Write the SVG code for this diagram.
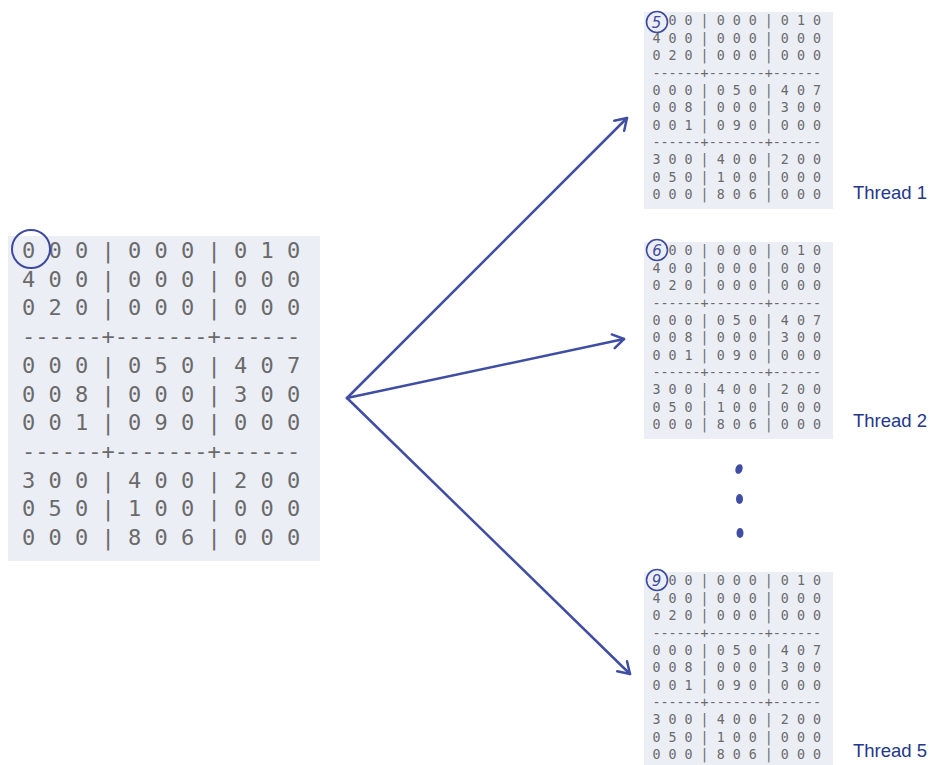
<svg xmlns="http://www.w3.org/2000/svg" xmlns:xlink="http://www.w3.org/1999/xlink" width="930" height="765" viewBox="0 0 930 765">
<style>
.bg{fill:#eceef6}
.g{font-family:"DejaVu Sans Mono",monospace;font-size:22px;fill:#6a6a6a}
.ring{fill:none;stroke:#3d4aa0;stroke-width:2}
.badge{fill:#eceef6;stroke:#3d4aa0;stroke-width:1.6}
.num{font-family:"DejaVu Sans","Noto Sans",sans-serif;font-style:italic;font-size:15px;fill:#3d4aa0;text-anchor:middle}
.lbl{font-family:"Liberation Sans",Arial,sans-serif;font-size:18.5px;fill:#24378c}
.conn{fill:none;stroke:#3f4ea3;stroke-width:2.5;stroke-linecap:round}
.dot{fill:#3f4ea3}
</style>
<defs>
<marker id="arr" markerUnits="userSpaceOnUse" markerWidth="30" markerHeight="30" refX="0" refY="0" viewBox="-15 -15 30 30" orient="auto" overflow="visible">
<path d="M-11,-7 L0,0 L-11,7" fill="none" stroke="#3f4ea3" stroke-width="2.5" stroke-linecap="round" stroke-linejoin="round"/>
</marker>
<g id="grid">
<rect class="bg" x="0" y="0" width="312" height="325"/>
<g class="g">
<text x="14" y="22">0 0 0 | 0 0 0 | 0 1 0</text>
<text x="14" y="50.7">4 0 0 | 0 0 0 | 0 0 0</text>
<text x="14" y="79.4">0 2 0 | 0 0 0 | 0 0 0</text>
<text x="14" y="108.1">------+-------+------</text>
<text x="14" y="136.8">0 0 0 | 0 5 0 | 4 0 7</text>
<text x="14" y="165.5">0 0 8 | 0 0 0 | 3 0 0</text>
<text x="14" y="194.2">0 0 1 | 0 9 0 | 0 0 0</text>
<text x="14" y="222.9">------+-------+------</text>
<text x="14" y="251.6">3 0 0 | 4 0 0 | 2 0 0</text>
<text x="14" y="280.3">0 5 0 | 1 0 0 | 0 0 0</text>
<text x="14" y="309">0 0 0 | 8 0 6 | 0 0 0</text>
</g>
</g>
</defs>

<g id="input">
<use xlink:href="#grid" href="#grid" transform="translate(8,236)"/>
<circle class="ring" cx="31" cy="249" r="19"/>
</g>

<g id="thread1">
<use xlink:href="#grid" href="#grid" transform="translate(644,12) scale(0.606)"/>
<circle class="badge" cx="657" cy="22" r="10.5"/>
<text class="num" x="656.5" y="27.5">5</text>
<text class="lbl" x="853" y="199">Thread 1</text>
</g>

<g id="thread2">
<use xlink:href="#grid" href="#grid" transform="translate(644,242) scale(0.606)"/>
<circle class="badge" cx="657" cy="250" r="10.5"/>
<text class="num" x="657" y="255.5">6</text>
<text class="lbl" x="853" y="427">Thread 2</text>
</g>

<g id="ellipsis">
<ellipse class="dot" cx="739" cy="469" rx="3.5" ry="5" transform="rotate(20 739 469)"/>
<ellipse class="dot" cx="739.5" cy="499" rx="3.5" ry="5"/>
<ellipse class="dot" cx="740" cy="533" rx="3.5" ry="5"/>
</g>

<g id="thread5">
<use xlink:href="#grid" href="#grid" transform="translate(644,572) scale(0.606)"/>
<circle class="badge" cx="657" cy="580" r="10.5"/>
<text class="num" x="656.5" y="585.5">9</text>
<text class="lbl" x="853" y="757">Thread 5</text>
</g>

<g id="connectors">
<line class="conn" x1="347" y1="398" x2="627" y2="118" marker-end="url(#arr)"/>
<line class="conn" x1="347" y1="398" x2="624" y2="339" marker-end="url(#arr)"/>
<line class="conn" x1="347" y1="398" x2="630" y2="674" marker-end="url(#arr)"/>
</g>
</svg>
